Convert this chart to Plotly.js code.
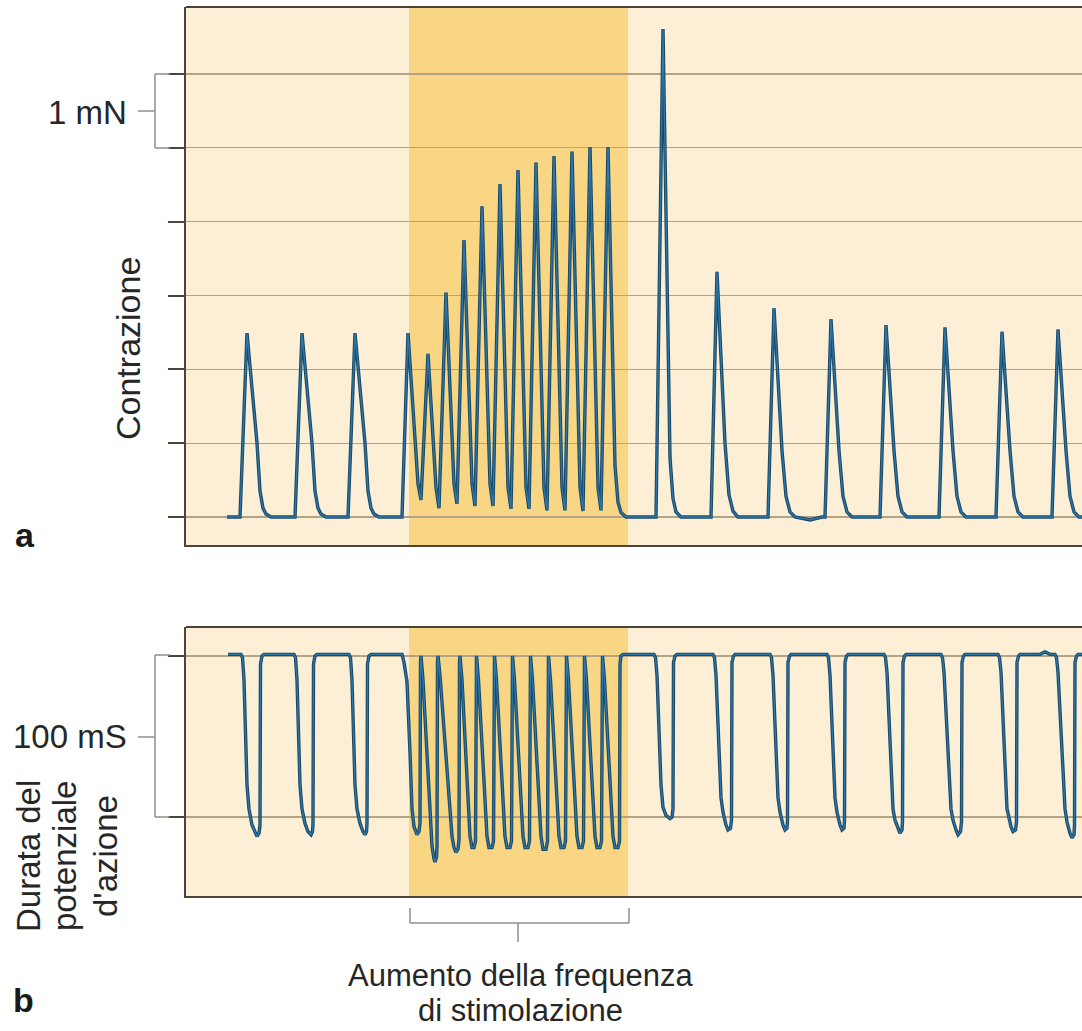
<!DOCTYPE html>
<html>
<head>
<meta charset="utf-8">
<script src="https://cdn.plot.ly/plotly-3.0.1.min.js"></script>
<style>
html,body{margin:0;padding:0;background:#fff;}
#chart{width:1082px;height:1031px;}
</style>
</head>
<body>
<div id="chart"></div>
<script>
// ---- Data (time in arbitrary units along the trace) ----
// Panel a: contraction force (mN)
const contractionTime = [227,240,247,257,260,263,266,271,295,302,312,315,318,321,326,348,355,365,368,371,374,379,402,408,418,421,428,436,439,446,454,457,464,472,475,482,490,493,500,508,511,518,526,529,536,544,547,554,562,565,572,580,583,590,598,601,608,615,618,621,626,656,663,670,673,676,681,711,717,725,729,733,738,768,774,782,786,790,795,810,822,825,831,839,843,847,852,880,886,894,898,902,907,939,945,953,957,961,966,996,1002,1010,1014,1018,1023,1052,1058,1066,1070,1074,1079,1095];
const contractionForce = [0,0,2.49,1.0,0.35,0.12,0.04,0,0,2.49,1.0,0.35,0.12,0.04,0,0,2.49,1.0,0.35,0.12,0.04,0,0,2.49,0.45,0.23,2.21,0.4,0.12,3.04,0.45,0.18,3.75,0.45,0.15,4.21,0.45,0.15,4.51,0.4,0.11,4.70,0.4,0.11,4.80,0.4,0.09,4.89,0.4,0.09,4.95,0.4,0.08,5.01,0.4,0.09,5.01,0.7,0.2,0.06,0,0,6.61,0.8,0.25,0.07,0,0,3.32,1.0,0.3,0.08,0,0,2.83,0.9,0.28,0.07,0,-0.04,0,0,2.68,0.9,0.28,0.07,0,0,2.60,0.9,0.28,0.07,0,0,2.57,0.9,0.28,0.07,0,0,2.51,0.9,0.28,0.07,0,0,2.54,0.9,0.28,0.07,0,0];

// Panel b: action potential duration trace (ms)
const durationTime = [
 228,241,242.5,244,247,249,252,255,257,259,260,260.5,262,264,
 294,295.5,297,300,302,305,308,311,312.5,313,313.5,315,317,
 349,350.5,352,355,357,360,363,365,366.5,367,367.5,369,371,
 402,404,407,410,412,414,417,419,420,420.5,421,
 423,430,432,434,435,436.5,437,437.5,438,
 440,450,452,454,456,458,459,459.5,460,
 462,468,470,472,474,475.5,476,476.5,
 478.5,485,487,489,492,493.5,494,494.5,
 496.5,503,505,507,510,511.5,512,512.5,
 514.5,521,523,525,528,529.5,530,530.5,
 532.5,539,541,543,546,547.5,548,548.5,
 550.5,557,559,561,564,565.5,566,566.5,
 568.5,575,577,579,582,583.5,584,584.5,
 586.5,593,595,597,600,601.5,602,602.5,
 604.5,611,613,615,618,619.5,620,621,623,
 654,655.5,657,661,663,666,670,672,673,673.5,675,677,
 713,714.5,716,721,723,726,728,730.5,731.5,732,733.5,735,
 770,771.5,773,778,780,783,785,787,787.5,788,789.5,791,
 827,828.5,830,835,837,840,842,844,844.5,845,846.5,848,
 884,885.5,887,893,895,898,900,902,902.5,903,904.5,906,
 941,942.5,944,951,953,956,958,960.5,961.5,962,963.5,965,
 998,999.5,1001,1007,1009,1011,1013,1015.5,1016.5,1017,1018.5,1020,
 1040,1045,1050,
 1055,1056.5,1058,1065,1067,1070,1072,1074,1074.5,1075,1076.5,1078,1095];
const durationValue = [
 101,101,99,85,20,5,-5,-10,-12,-10,-5,95,100,101,
 101,99,85,20,5,-4,-9,-11,-9,-4,95,100,101,
 101,99,85,20,5,-4,-9,-11,-9,-4,95,100,101,
 101,96,84,40,5,-6,-11,-9,-4,96,100,
 85,0,-18,-26,-28,-25,-18,96,100,
 88,0,-12,-19,-22,-20,-14,96,100,
 85,5,-12,-19,-19,-15,95,100,
 85,5,-12,-19,-19,-15,95,100,
 85,5,-12,-19,-19,-15,95,100,
 85,5,-12,-19,-19,-15,95,100,
 85,5,-12,-20,-20,-15,95,100,
 85,5,-12,-19,-19,-15,95,100,
 85,5,-12,-19,-19,-15,95,100,
 85,5,-12,-19,-19,-15,95,100,
 85,5,-12,-19,-19,-15,95,100,101,
 101,99,88,20,6,1,-1,0,5,96,100,101,
 101,99,88,12,3,-5,-8,-7,-2,96,100,101,
 101,99,88,12,3,-5,-8,-7,-2,96,100,101,
 101,99,88,12,3,-5,-8,-7,-2,96,100,101,
 101,99,90,5,-2,-7,-10,-8,-3,96,100,101,
 101,99,90,5,-2,-8,-11,-9,-3,96,100,101,
 101,99,90,5,-2,-6,-9,-8,-3,96,100,101,
 101,102.5,101,
 101,99,90,5,-3,-10,-13,-11,-5,96,100,101,101];

const contractionTicks = [0,1,2,3,4,5,6];
const durationTicks = [0,100];
const stimWindow = [409,628];

// Text
const labelScaleA = "1 mN";
const labelScaleB = "100 mS";
const titleA = "Contrazione";
const titleBLines = ["Durata del","potenziale","d'azione"];
const stimLines = ["Aumento della frequenza","di stimolazione"];

// ---- Layout geometry (pixels of the 1082x1031 page) ----
const W = 1082, H = 1031;
const L = 186, T = 7, B = 135;
const plotW = W - L, plotH = H - T - B; // bottom of plot area at 896
const px = p => (p - L) / plotW;
const py = p => (H - B - p) / plotH;

const bgLight = '#FDEFD6';
const bgStim = '#F8D684';
const axisCol = '#4a4538';
const gridCol = '#b3a485';
const lineDark = '#1c4863';
const lineMid = '#2a78ad';
const textCol = '#262626';
const bracketCol = '#8e8e8e';
const FONT = 'Liberation Sans, Arial, Helvetica, sans-serif';

const traces = [
  {x: contractionTime, y: contractionForce, xaxis:'x', yaxis:'y', mode:'lines',
   line:{color: lineDark, width: 3.4}, hoverinfo:'skip', showlegend:false},
  {x: contractionTime, y: contractionForce, xaxis:'x', yaxis:'y', mode:'lines',
   line:{color: lineMid, width: 1.3}, hoverinfo:'skip', showlegend:false},
  {x: durationTime, y: durationValue, xaxis:'x2', yaxis:'y2', mode:'lines',
   line:{color: lineDark, width: 3.4}, hoverinfo:'skip', showlegend:false},
  {x: durationTime, y: durationValue, xaxis:'x2', yaxis:'y2', mode:'lines',
   line:{color: lineMid, width: 1.3}, hoverinfo:'skip', showlegend:false}
];

const topDom = [py(545), 1];
const botDom = [0, py(627)];

const yaxisCommon = {
  ticks:'outside', ticklen:16, tickwidth:2, tickcolor: axisCol,
  showticklabels:false, showgrid:true, gridcolor: gridCol, gridwidth:1.2,
  zeroline:false, showline:true, linecolor: axisCol, linewidth:2, fixedrange:true
};
const xaxisCommon = {
  range:[L, W], showgrid:false, zeroline:false, showticklabels:false, ticks:'',
  showline:true, linecolor: axisCol, linewidth:2, fixedrange:true
};

function hline(x0,x1,y,color,width){return {type:'line',xref:'paper',yref:'paper',x0:px(x0),x1:px(x1),y0:py(y),y1:py(y),line:{color:color,width:width}};}
function vline(x,y0,y1,color,width){return {type:'line',xref:'paper',yref:'paper',x0:px(x),x1:px(x),y0:py(y0),y1:py(y1),line:{color:color,width:width}};}

const shapes = [
  {type:'rect', xref:'x', yref:'paper', x0:stimWindow[0], x1:stimWindow[1], y0:topDom[0], y1:topDom[1], fillcolor:bgStim, line:{width:0}, layer:'below'},
  {type:'rect', xref:'x2', yref:'paper', x0:stimWindow[0], x1:stimWindow[1], y0:botDom[0], y1:botDom[1], fillcolor:bgStim, line:{width:0}, layer:'below'},
  hline(L, W+5, 7, axisCol, 2),
  hline(L, W+5, 627, axisCol, 2),
  // 1 mN bracket
  vline(155, 74, 148, bracketCol, 1.5),
  hline(155, 170, 74, bracketCol, 1.5),
  hline(155, 170, 148, bracketCol, 1.5),
  hline(138, 155, 111, bracketCol, 1.5),
  // 100 mS bracket
  vline(155, 655, 817, bracketCol, 1.5),
  hline(155, 170, 655, bracketCol, 1.5),
  hline(155, 170, 817, bracketCol, 1.5),
  hline(138, 155, 737, bracketCol, 1.5),
  // stimulation bracket
  hline(410, 629, 923, bracketCol, 1.5),
  vline(410, 908, 923, bracketCol, 1.5),
  vline(629, 908, 923, bracketCol, 1.5),
  vline(518, 923, 942, bracketCol, 1.5)
];

function ann(text, x, y, opts){
  return Object.assign({text:text, xref:'paper', yref:'paper', x:px(x), y:py(y),
    showarrow:false, xanchor:'center', yanchor:'middle',
    font:{family:FONT, size:33, color:textCol}}, opts||{});
}

const annotations = [
  ann(labelScaleA, 129, 113, {xanchor:'right'}),
  ann(labelScaleB, 129, 736, {xanchor:'right'}),
  ann(titleA, 128, 349, {textangle:-90, font:{family:FONT, size:34, color:textCol}}),
  ann(titleBLines[0], 28, 856, {textangle:-90}),
  ann(titleBLines[1], 64, 856, {textangle:-90}),
  ann(titleBLines[2], 105, 856, {textangle:-90}),
  ann(stimLines[0], 520, 975, {borderpad:0, font:{family:FONT, size:31, color:textCol}}),
  ann(stimLines[1], 520, 1011, {borderpad:0, font:{family:FONT, size:31, color:textCol}}),
  ann('<b>a</b>', 25, 535, {font:{family:FONT, size:34, color:'#1a1a1a'}}),
  ann('<b>b</b>', 23, 1000, {font:{family:FONT, size:34, color:'#1a1a1a'}})
];

const layout = {
  width: W, height: H,
  margin:{l:L, r:0, t:T, b:B, pad:0},
  paper_bgcolor:'#ffffff', plot_bgcolor: bgLight,
  showlegend:false, hovermode:false,
  xaxis: Object.assign({domain:[0,1], anchor:'y'}, xaxisCommon),
  xaxis2: Object.assign({domain:[0,1], anchor:'y2'}, xaxisCommon),
  yaxis: Object.assign({domain: topDom, anchor:'x', range:[(517-545)/73.83, (517-7)/73.83], tickmode:'array', tickvals: contractionTicks}, yaxisCommon),
  yaxis2: Object.assign({domain: botDom, anchor:'x2', range:[(817-896)/1.61, (817-627)/1.61], tickmode:'array', tickvals: durationTicks}, yaxisCommon),
  shapes: shapes,
  annotations: annotations
};

Plotly.newPlot('chart', traces, layout, {displayModeBar:false, staticPlot:true});
</script>
</body>
</html>
